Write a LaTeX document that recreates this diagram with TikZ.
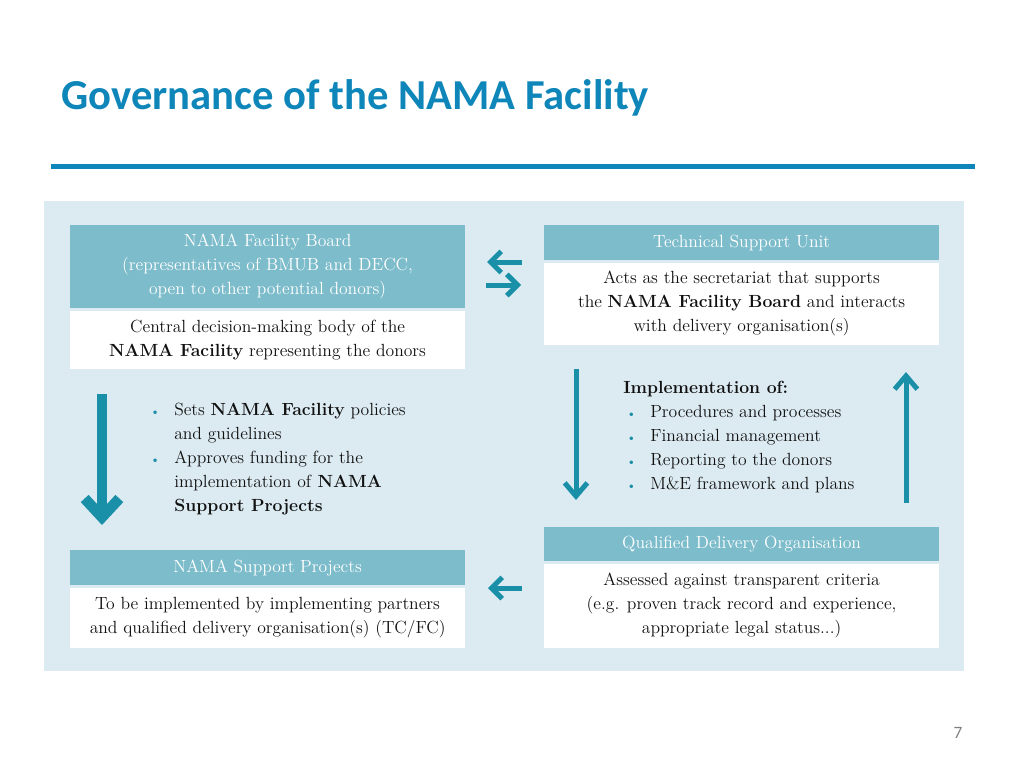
\documentclass[tikz,border=0pt]{standalone}
\usepackage{fontspec}
\newfontfamily\titlefont{Carlito}
\usetikzlibrary{arrows.meta,positioning}

\definecolor{namablue}{HTML}{0F86B9}
\definecolor{panel}{HTML}{DCEBF2}
\definecolor{headfill}{HTML}{7DBCCB}
\definecolor{teal}{HTML}{1990A8}
\definecolor{bodytext}{HTML}{111111}
\newcommand{\dotmark}{\textcolor{teal}{\small\textbullet}}

\begin{document}
\begin{tikzpicture}[x=0.75pt,y=-0.75pt,
  head/.style={fill=headfill,text=white,inner sep=0pt,minimum width=296pt,
    align=center,anchor=north west,font=\fontsize{13.2}{18}\selectfont},
  body/.style={fill=white,text=bodytext,inner sep=0pt,minimum width=296pt,
    align=center,font=\fontsize{13.2}{18}\selectfont},
  list/.style={anchor=north west,inner sep=0pt,text=bodytext,
    font=\fontsize{13.2}{18}\selectfont},
  flow/.style={teal,line width=3.75pt,-{Straight Barb[length=8pt,width=16pt]}}]

\useasboundingbox (0,0) rectangle (1024,768);

\node[anchor=base west,inner sep=0pt,text=namablue,
  font=\titlefont\bfseries\fontsize{32}{38}\selectfont] (title) at (61,109)
  {Governance of the NAMA Facility};
\draw[namablue,line width=3.75pt] (51,166) -- (975,166);

\fill[panel] (44,201) rectangle (964,671);

\node[head,minimum height=62.25pt] (board) at (70,225)
  {NAMA Facility Board\\(representatives of BMUB and DECC,\\open to other potential donors)};
\node[body,minimum height=43.5pt,below=1.5pt of board] (boardBody)
  {Central decision-making body of the\\\textbf{NAMA Facility} representing the donors};

\node[head,minimum height=26.25pt] (tsu) at (544,225) {Technical Support Unit};
\node[body,minimum height=61.5pt,below=1.5pt of tsu] (tsuBody)
  {Acts as the secretariat that supports\\the \textbf{NAMA Facility Board} and interacts\\with delivery organisation(s)};

\node[head,minimum height=25.5pt] (qdo) at (544,527) {Qualified Delivery Organisation};
\node[body,minimum height=63pt,below=1.5pt of qdo] (qdoBody)
  {Assessed against transparent criteria\\(e.g. proven track record and experience,\\appropriate legal status...)};

\node[head,minimum height=26.25pt] (nsp) at (70,550) {NAMA Support Projects};
\node[body,minimum height=45pt,below=1.5pt of nsp] (nspBody)
  {To be implemented by implementing partners\\and qualified delivery organisation(s) (TC/FC)};

\node[list] (boardTasks) at (150,398)
  {\begin{tabular}{@{}p{18pt}@{}l@{}}
   \dotmark & Sets \textbf{NAMA Facility} policies\\
            & and guidelines\\
   \dotmark & Approves funding for the\\
            & implementation of \textbf{NAMA}\\
            & \textbf{Support Projects}
   \end{tabular}};

\node[list] (tsuTasks) at (623,376)
  {\begin{tabular}{@{}p{20.25pt}@{}l@{}}
   \multicolumn{2}{@{}l@{}}{\textbf{Implementation of:}}\\
   \hspace{2.5pt}\dotmark & Procedures and processes\\
   \hspace{2.5pt}\dotmark & Financial management\\
   \hspace{2.5pt}\dotmark & Reporting to the donors\\
   \hspace{2.5pt}\dotmark & M\&E framework and plans
   \end{tabular}};

\coordinate (A) at (522,262);
\coordinate (B) at (487,262);
\coordinate (C) at (486,285);
\coordinate (D) at (521,285);
\coordinate (E) at (102,394);
\coordinate (F) at (102,525);
\coordinate (G) at (576,369);
\coordinate (H) at (576,500);
\coordinate (I) at (906,503);
\coordinate (J) at (906,372);
\coordinate (K) at (522,588);
\coordinate (L) at (488,588);

\draw[flow] (A) -- (B);
\draw[flow] (C) -- (D);
\draw[flow] (K) -- (L);
\draw[flow,line width=8pt,-{Straight Barb[length=14pt,width=26pt]}] (E) -- (F);
\draw[flow,line width=3.75pt,-{Straight Barb[length=10pt,width=17pt]}] (G) -- (H);
\draw[flow,line width=3.75pt,-{Straight Barb[length=10pt,width=17pt]}] (I) -- (J);

\node[text=gray,font=\titlefont\fontsize{13}{15}\selectfont] (page) at (958,733) {7};

\end{tikzpicture}
\end{document}
